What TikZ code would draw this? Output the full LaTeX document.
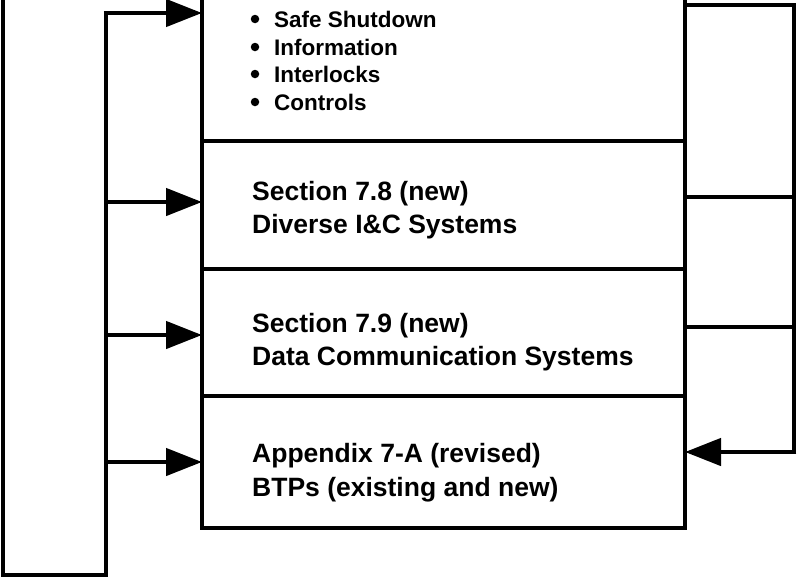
\documentclass[tikz,border=0pt]{standalone}
\usepackage{fontspec}
\setmainfont{Liberation Sans}
\usetikzlibrary{arrows.meta}
\begin{document}
\begin{tikzpicture}[x=1pt,y=-1pt,
  ln/.style={line width=4.5pt},
  arr/.style={line width=4.5pt,-{Triangle[length=36pt,width=27pt]}},
  sec/.style={draw,line width=4.5pt,rectangle,minimum width=483pt,inner sep=0pt,outer sep=0pt,anchor=north west},
  txt/.style={anchor=base west,inner sep=0pt,font=\bfseries\fontsize{26.5}{30}\selectfont},
  bul/.style={anchor=base west,inner sep=0pt,font=\bfseries\fontsize{22.5}{27}\selectfont},
  dot/.style={circle,fill,inner sep=0pt,minimum size=8.5pt}]
\useasboundingbox (0,0) rectangle (797,581);
\clip (0,0) rectangle (797,581);
% main stacked box
\node[sec,minimum height=181pt] (s1) at (202,-40) {};
\node[sec,minimum height=128pt] (s2) at (202,141) {};
\node[sec,minimum height=127pt] (s3) at (202,269) {};
\node[sec,minimum height=132pt] (s4) at (202,396) {};
% bullet list
\node[bul] (b1) at (274,27)  {Safe Shutdown};
\node[bul] (b2) at (274,55)  {Information};
\node[bul] (b3) at (274,82)  {Interlocks};
\node[bul] (b4) at (274,110) {Controls};
\foreach \b in {b1,b2,b3,b4}
  \node[dot] (\b d) at ([xshift=-19pt,yshift=8pt]\b.base west) {};
% section texts
\node[txt] (t2a) at (252,200) {Section 7.8 (new)};
\node[txt] (t2b) at (252,233) {Diverse I\&C Systems};
\node[txt] (t3a) at (252,332) {Section 7.9 (new)};
\node[txt] (t3b) at (252,365) {Data Communication Systems};
\node[txt] (t4a) at (252,462) {Appendix 7-A (revised)};
\node[txt] (t4b) at (252,496) {BTPs (existing and new)};
% left feedback bus
\coordinate (lt) at (3,-20);
\coordinate (lb) at (3,575);
\coordinate (bb) at (106,575);
\coordinate (bt) at (106,13);
\coordinate (a2) at (106,202);
\coordinate (a3) at (106,335);
\coordinate (a4) at (106,462);
\draw[ln] (lt) -- (lb) -- (bb) -- ([yshift=2.25pt]bt);
\draw[arr] ([xshift=-2.25pt]bt) -- (bt -| s1.west);
\draw[arr] (a2) -- (a2 -| s2.west);
\draw[arr] (a3) -- (a3 -| s3.west);
\draw[arr] (a4) -- (a4 -| s4.west);
% right bus
\coordinate (rt) at (794,5);
\coordinate (rb) at (794,452);
\coordinate (h1) at (794,197);
\coordinate (h2) at (794,327);
\draw[ln] (rt -| s1.east) -- (rt) -- ([yshift=-2.25pt]rb);
\draw[ln] (h1 -| s2.east) -- (h1);
\draw[ln] (h2 -| s3.east) -- (h2);
\draw[arr] ([xshift=2.25pt]rb) -- (rb -| s4.east);
\end{tikzpicture}
\end{document}
